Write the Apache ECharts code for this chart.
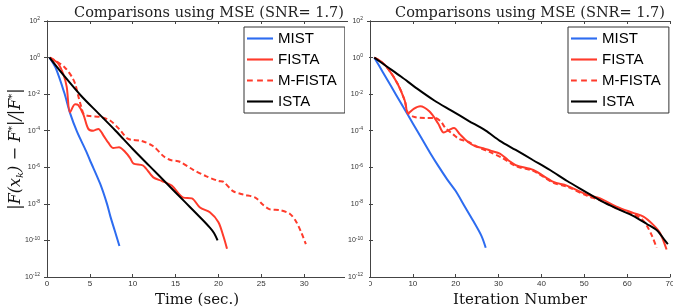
<!DOCTYPE html>
<html>
<head>
<meta charset="utf-8">
<title>Comparisons using MSE</title>
<script src="https://cdn.jsdelivr.net/npm/echarts@6/dist/echarts.min.js"></script>
</head>
<body style="margin:0;background:#fff">
<div id="main" style="width:673px;height:308px;"></div>
<script type="text/javascript">
var names = ['MIST', 'FISTA', 'M-FISTA', 'ISTA'];
var xTicksTime = [0, 35, 5];
var xTicksIter = [0, 70, 10];

// left panel: error vs time (sec.)
var mistTime = [[0.3,1],[1,2.8e-1],[2,1.26e-2],[2.7,8.9e-4],[3.5,8.9e-5],[4.55,7.9e-6],[5,2.5e-6],[6.2,1.26e-7],[7,1e-8],[7.4,2.0e-9],[7.9,3.5e-10],[8.45,5.0e-11]];
var fistaTime = [[0.35,1],[1.0,0.63],[1.35,0.45],[1.9,0.126],[2.3,2.5e-2],[2.68,1e-3],[3.27,2.8e-3],[3.65,2.5e-3],[4.24,7.9e-4],[4.82,1.26e-4],[5.4,1e-4],[5.99,1.26e-4],[6.57,5.6e-5],[7.15,2.2e-5],[7.74,1.12e-5],[8.4,1.26e-5],[9.1,7.1e-6],[9.7,3.2e-6],[10.1,1.58e-6],[11.2,1.26e-6],[12.4,2.8e-7],[13.4,1.78e-7],[14.55,1e-7],[15.9,2.2e-8],[16.9,2.0e-8],[17.85,6.3e-9],[19.0,3.5e-9],[20.0,1e-9],[20.6,1.58e-10],[21.0,3.5e-11]];
var mfistaTime = [[0.35,1],[1.1,0.63],[2.1,0.28],[2.9,8.9e-2],[3.3,3.5e-2],[3.65,7.9e-3],[4.0,2.0e-3],[4.3,7.9e-4],[5.0,6.3e-4],[6.3,5.6e-4],[7.4,3.5e-4],[8.5,1.12e-4],[9.3,4.0e-5],[9.8,3.2e-5],[11.0,2.8e-5],[12.4,1.41e-5],[13.6,4.0e-6],[14.4,2.5e-6],[15.5,2.0e-6],[17.1,7.1e-7],[18.6,3.2e-7],[20.0,1.78e-7],[20.6,1.58e-7],[21.7,5.0e-8],[22.9,3.2e-8],[24.3,2.2e-8],[25.2,8.9e-9],[26.0,5.0e-9],[27.2,4.5e-9],[28.35,2.8e-9],[29.1,1e-9],[29.7,2.5e-10],[30.2,6.3e-11]];
var istaTime = [[0.3,1],[2,1e-1],[4,7.9e-3],[6,8.9e-4],[8,1e-4],[10,1e-5],[12,1.12e-6],[14,1.26e-7],[16,1.41e-8],[18,1.58e-9],[19,5.0e-10],[19.5,2.5e-10],[19.9,1e-10]];

// right panel: error vs iteration number
var mistIter = [[1,1],[2,0.4],[4,6.3e-2],[6,1e-2],[8,1.58e-3],[10,2.5e-4],[12,4.0e-5],[14,6.3e-6],[16,1.12e-6],[18,2.2e-7],[20,5.0e-8],[22,7.9e-9],[24,1.26e-9],[26,1.78e-10],[27,4.0e-11]];
var fistaIter = [[1,1],[2.5,0.63],[4.2,0.25],[6.5,3.5e-2],[8.1,4.5e-3],[8.9,8.9e-4],[10.2,1.58e-3],[11.7,2.2e-3],[13.9,1.12e-3],[15.9,2.5e-4],[17.2,7.9e-5],[18.5,1.12e-4],[19.6,1.41e-4],[21,6.3e-5],[22.8,2.5e-5],[24.6,1.41e-5],[26.4,1.12e-5],[28.3,7.9e-6],[30.3,5.6e-6],[32.2,2.5e-6],[34.2,1.26e-6],[38.1,7.1e-7],[42.8,1.58e-7],[45.9,1e-7],[50.6,3.2e-8],[53.7,2.0e-8],[57.5,7.1e-9],[61.4,3.2e-9],[63.8,2.0e-9],[66.1,7.1e-10],[67.7,2.5e-10],[69.2,3.2e-11]];
var mfistaIter = [[1,1],[2.5,0.63],[4.2,0.25],[6.5,3.5e-2],[8.1,4.5e-3],[8.9,8.9e-4],[10.4,5.6e-4],[12.8,5.0e-4],[15.1,5.0e-4],[16.5,3.2e-4],[17.6,1.41e-4],[19.4,6.3e-5],[20.8,3.5e-5],[22.9,2.5e-5],[25.2,1.26e-5],[28.3,6.3e-6],[30.6,3.5e-6],[34.2,1.12e-6],[38.1,6.3e-7],[42.8,1.41e-7],[45.9,8.9e-8],[50.6,2.8e-8],[53.7,1.58e-8],[57.5,5.6e-9],[61.4,2.8e-9],[63.5,1.41e-9],[64.6,6.3e-10],[65.7,2.0e-10],[66.9,4.0e-11]];
var istaIter = [[1,1],[4,0.316],[7.3,8.9e-2],[11,2.0e-2],[15,4.5e-3],[19,1.26e-3],[23,3.5e-4],[27,1e-4],[30.3,2.8e-5],[34,8.9e-6],[38,2.5e-6],[42,7.1e-7],[46,1.78e-7],[50,5.0e-8],[54,1.41e-8],[58,5.0e-9],[61.4,2.2e-9],[64.6,7.9e-10],[67,3.5e-10],[68.8,1e-10],[69.5,6.3e-11]];

var blue = '#2d6cf0', red = '#ff3b2b', black = '#000000';
var serif = 'DejaVu Serif';
var solidIcon = 'path://M0,0H27V2.2H0Z';
var dashIcon = 'path://M0,0H6V2.2H0Z M10.5,0H16.5V2.2H10.5Z M21,0H27V2.2H21Z';

function logLabel(v) {
    var e = Math.round(Math.log10(v));
    return '10{s|' + e + '}';
}
var labelRich = { s: { fontSize: 5, verticalAlign: 'top', padding: [0, 0, 4, 0], color: '#333' } };

function xAx(gi, r, pos, name) {
    return {
        type: 'value', gridIndex: gi, position: pos, min: r[0], max: r[1], interval: r[2],
        name: name, nameLocation: 'middle', nameGap: 11,
        nameTextStyle: { fontFamily: serif, fontSize: 15, color: '#111' },
        axisLine: { show: true, onZero: false, lineStyle: { color: '#444', width: 1 } },
        axisTick: { show: true, inside: true, length: 3, lineStyle: { color: '#444' } },
        axisLabel: { show: pos === 'bottom', fontSize: 8, color: '#333', margin: 3, showMaxLabel: gi === 1 },
        splitLine: { show: false }
    };
}
function yAx(gi, pos, name) {
    return {
        type: 'log', logBase: 10, gridIndex: gi, position: pos, min: 1e-12, max: 1e2, interval: 2,
        name: name, nameLocation: 'middle', nameGap: 22, nameRotate: 90, nameMoveOverlap: false,
        nameTextStyle: {
            fontFamily: serif, fontStyle: 'italic', fontSize: 16, color: '#111',
            rich: {
                sub: { fontFamily: serif, fontStyle: 'italic', fontSize: 10, padding: [8, 0, 0, 0] },
                sup: { fontFamily: serif, fontStyle: 'italic', fontSize: 10, padding: [0, 0, 8, 0] }
            }
        },
        z: gi === 1 && pos === 'left' ? 20 : 0,
        axisLine: { show: true, lineStyle: { color: '#444', width: 1 } },
        axisTick: { show: true, inside: true, length: 3, lineStyle: { color: '#444' } },
        axisLabel: { show: pos === 'left', fontSize: 7, color: '#333', margin: 7, formatter: logLabel, rich: labelRich },
        splitLine: { show: false }
    };
}

function line(name, data, gi, color, dashed) {
    return {
        name: name, type: 'line', xAxisIndex: gi, yAxisIndex: gi, data: data,
        symbol: 'none', smooth: 0.3,
        lineStyle: { color: color, width: 2, type: dashed ? [5, 3] : 'solid' },
        itemStyle: { color: color }
    };
}

function legendAt(x) {
    return {
        data: names.map(function (n) {
            return { name: n, icon: n === 'M-FISTA' ? dashIcon : solidIcon };
        }),
        orient: 'vertical', left: x, top: 27,
        itemWidth: 26, itemHeight: 14, itemGap: 6, padding: [4, 8, 4, 3],
        backgroundColor: '#fff', borderColor: '#333', borderWidth: 1, borderRadius: 0,
        textStyle: { fontFamily: 'Liberation Sans', fontSize: 15, color: '#000', lineHeight: 14 },
        selectedMode: false
    };
}

var myChart = echarts.init(document.getElementById('main'), null, { renderer: 'canvas' });
var option = {
    backgroundColor: '#fff',
    animation: false,
    title: [
        { text: 'Comparisons using MSE (SNR= 1.7)', left: 204, top: 1, textAlign: 'center',
          textStyle: { fontFamily: serif, fontSize: 14.5, fontWeight: 'normal', color: '#222' } },
        { text: 'Comparisons using MSE (SNR= 1.7)', left: 525, top: 1, textAlign: 'center',
          textStyle: { fontFamily: serif, fontSize: 14.5, fontWeight: 'normal', color: '#222' } }
    ],
    legend: [legendAt(244), legendAt(568)],
    grid: [
        { left: 47, top: 21, width: 300, bottom: 31, outerBoundsMode: 'none', containLabel: false },
        { left: 370, top: 21, right: 3, bottom: 31, outerBoundsMode: 'none', containLabel: false }
    ],
    xAxis: [
        xAx(0, xTicksTime, 'bottom', 'Time (sec.)'),
        xAx(1, xTicksIter, 'bottom', 'Iteration Number'),
        xAx(0, xTicksTime, 'top', ''),
        xAx(1, xTicksIter, 'top', '')
    ],
    yAxis: [
        yAx(0, 'left', '|F(x{sub|k}) − F{sup|*}|/|F{sup|*}|'),
        yAx(1, 'left', ''),
        yAx(0, 'right', ''),
        yAx(1, 'right', '')
    ],
    graphic: [
        { type: 'rect', shape: { x: 345, y: 22, width: 24, height: 270 }, style: { fill: '#fff' }, z: 10 }
    ],
    series: [
        line('MIST', mistTime, 0, blue, false),
        line('FISTA', fistaTime, 0, red, false),
        line('M-FISTA', mfistaTime, 0, red, true),
        line('ISTA', istaTime, 0, black, false),
        line('MIST', mistIter, 1, blue, false),
        line('FISTA', fistaIter, 1, red, false),
        line('M-FISTA', mfistaIter, 1, red, true),
        line('ISTA', istaIter, 1, black, false)
    ]
};
myChart.setOption(option);
</script>
</body>
</html>
